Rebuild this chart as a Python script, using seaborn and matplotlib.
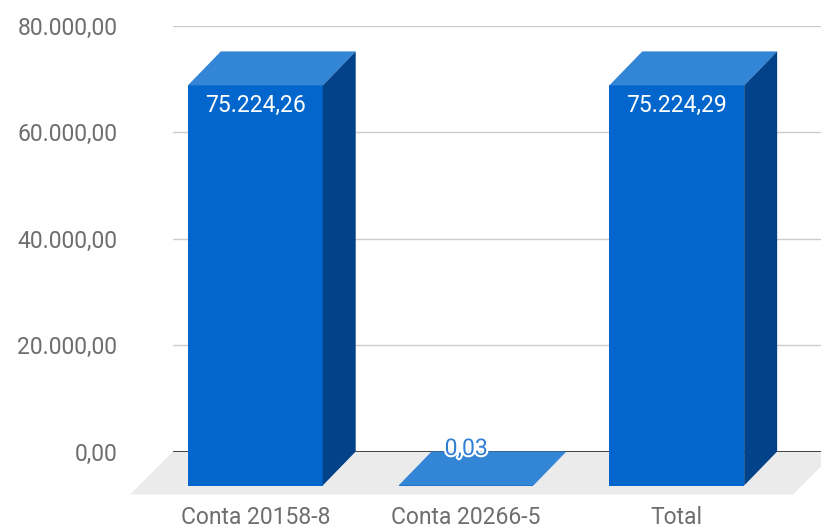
import matplotlib
matplotlib.use("Agg")
import matplotlib.pyplot as plt
import seaborn as sns
import numpy as np
import pandas as pd
from matplotlib.patches import Polygon
import matplotlib.patheffects as pe

categories = ["Conta 20158-8", "Conta 20266-5", "Total"]
values = [75224.26, 0.03, 75224.29]
y_ticks = [0, 20000, 40000, 60000, 80000]
y_tick_labels = ["0,00", "20.000,00", "40.000,00", "60.000,00", "80.000,00"]

FRONT = "#0366cc"
TOP = "#3385d6"
SIDE = "#024289"
FLOOR = "#ebebeb"
FS = 16.5

def br(v):
    s = f"{v:,.2f}"
    return s.replace(",", "X").replace(".", ",").replace("X", ".")

sns.set_style("white")
plt.rcParams["font.family"] = ["Roboto", "DejaVu Sans"]

W, H = 821, 529
fig = plt.figure(figsize=(W / 100, H / 100), dpi=100)
ax = fig.add_axes([173 / W, 77.5 / H, 648 / W, 425.5 / H])

df = pd.DataFrame({"cat": categories, "val": values})
sns.barplot(data=df, x="cat", y="val", color=FRONT, saturation=1, width=0.64,
            ax=ax, zorder=3, linewidth=0)

ax.set_xlim(-0.547, 2.528)
ax.set_ylim(0, 80000)
for s in ax.spines.values():
    s.set_visible(False)
ax.set_xlabel("")
ax.set_ylabel("")
ax.set_xticks([])
ax.set_yticks(y_ticks)
ax.set_yticklabels(y_tick_labels, fontsize=FS, color="#6e6e6e")
ax.tick_params(axis="y", length=0, pad=40)
for yt in y_ticks[1:]:
    ax.axhline(yt, color="#cccccc", lw=1.0, zorder=0)

fig.canvas.draw()
inv = ax.transData.inverted()
def delta(dx, dy):
    o = ax.transData.transform((0, 0))
    p = inv.transform(o + np.array([dx, dy]))
    return p[0], p[1]

bdx, bdy = delta(-33, -34)
fdx, fdy = delta(-43, -43)
xl0, xl1 = ax.get_xlim()
ex, _ = delta(15, 0)

floor = Polygon([(xl0, 0), (xl1 + ex, 0), (xl1 + ex + fdx, fdy), (xl0 + fdx, fdy)],
                closed=True, facecolor=FLOOR, edgecolor="none", zorder=1, clip_on=False)
ax.add_patch(floor)
ax.axhline(0, color="#333333", lw=1.3, zorder=2)

for p, v in zip(list(ax.patches)[:len(values)], values):
    x0 = p.get_x()
    w = p.get_width()
    x1 = x0 + w
    h = p.get_height()
    p.set_xy((x0 + bdx, bdy))
    p.set_clip_on(False)
    top = Polygon([(x0 + bdx, h + bdy), (x1 + bdx, h + bdy), (x1, h), (x0, h)],
                  closed=True, facecolor=TOP, edgecolor="none", zorder=3, clip_on=False)
    side = Polygon([(x1 + bdx, bdy), (x1, 0), (x1, h), (x1 + bdx, h + bdy)],
                   closed=True, facecolor=SIDE, edgecolor="none", zorder=3, clip_on=False)
    ax.add_patch(top)
    ax.add_patch(side)
    cx = x0 + w / 2 + bdx
    _, lab_dy = delta(0, -20)
    if v > 5000:
        ax.text(cx, h + bdy + lab_dy, br(v), ha="center", va="center", fontsize=FS,
                color="white", zorder=5)
    else:
        _, up = delta(0, 3)
        ax.text(cx, h + up, br(v), ha="center", va="center", fontsize=FS,
                color="#2f7fd6", zorder=5,
                path_effects=[pe.withStroke(linewidth=3, foreground="white")])

_, ly = delta(0, -66)
for i, c in enumerate(categories):
    ax.text(i + bdx, ly, c, ha="center", va="center", fontsize=FS, color="#6e6e6e",
            clip_on=False)

fig.savefig("out.png", dpi=100)
